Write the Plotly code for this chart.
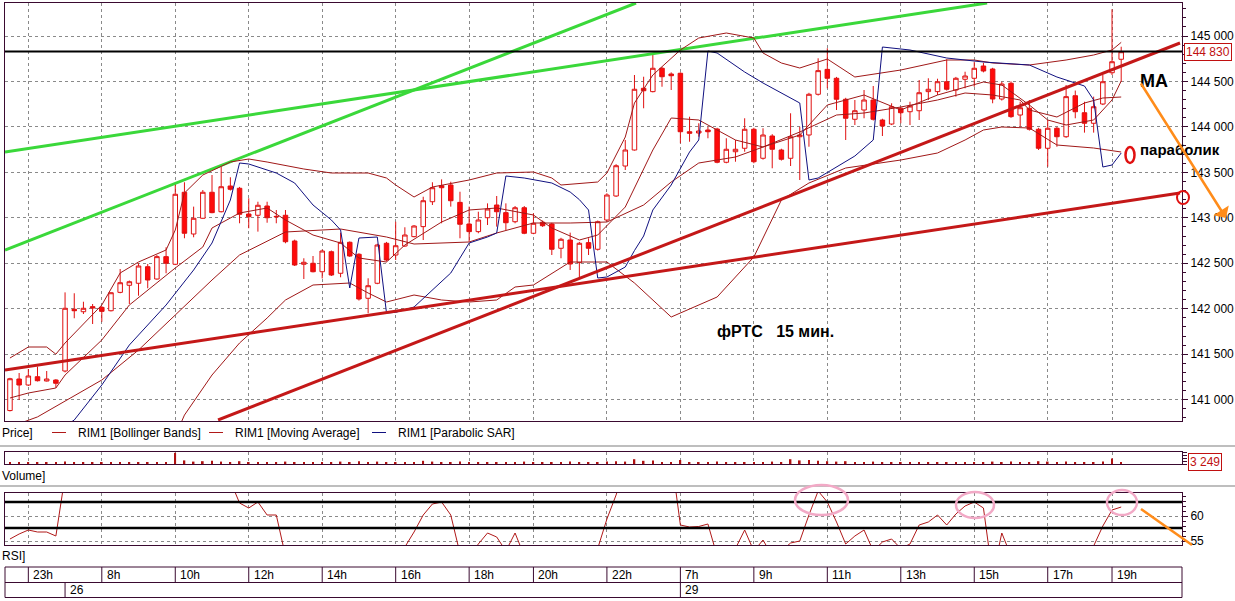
import plotly.graph_objects as go

# ---------------- data (candle index, price) ----------------
CANDLE_IDX = list(range(-2, 120))
OPEN = [140880,141227,141161,141252,141205,141216,141315,141994,141967,142023,
        142015,141978,142180,142258,142280,142462,142327,142573,142489,143281,
        142822,142995,143281,143067,143350,143325,143042,143028,143130,143010,
        143028,142745,142489,142500,142407,142627,142390,142731,142599,142115,
        142280,142720,142591,142690,142793,142903,143177,143353,143361,143170,
        142932,142848,143001,143141,143057,142957,143111,142830,142951,142932,
        142665,142756,142507,142727,142654,142976,143240,143570,143746,144425,
        144388,144645,144582,144590,143947,143933,143966,143977,143611,143727,
        143765,143974,143655,143900,143746,143655,143892,143911,144359,144633,
        144535,144304,144084,144186,144296,144076,144032,144205,144167,144178,
        144388,144388,144497,144406,144524,144535,144670,144637,144307,144480,
        144131,144205,143974,143765,143985,143892,144343,144156,144040,144252,
        144596,144744]
HIGH = [141240,141293,141337,141363,141315,141225,142180,142170,142077,142052,
        142030,142180,142437,142310,142500,142492,142590,142676,143380,143391,
        143123,143306,143471,143562,143446,143340,143215,143177,143177,143086,
        143086,142760,142555,142580,142650,142640,142837,142740,142610,142335,
        142715,142735,142957,142896,142920,143232,143391,143423,143397,143287,
        143123,143067,143159,143240,143159,143130,143130,143050,142970,142945,
        142780,142837,142735,142775,142970,143270,143590,143856,144571,144552,
        144791,144660,144600,144600,144112,144040,144002,143990,143875,143856,
        144095,143990,143985,143920,143760,144150,144002,144375,144755,144865,
        144550,144320,144296,144406,144450,144090,144260,144220,144277,144516,
        144535,144530,144744,144550,144607,144717,144706,144650,144497,144500,
        144277,144296,143990,144076,144000,144461,144400,144277,144333,144571,
        145294,144882]
LOW = [140870,140996,141150,141200,141200,141131,141300,141895,141942,141832,
       141856,141970,142170,142052,142143,142225,142320,142390,142480,142775,
       142786,142990,143050,143060,143300,142940,142885,142848,142946,142940,
       142720,142470,142327,142400,142333,142360,142346,142570,142090,141950,
       142270,142520,142536,142680,142785,142756,143141,142940,143123,142775,
       142737,142830,142921,142903,142866,142940,142820,142820,142900,142591,
       142555,142426,142333,142591,142640,142960,143230,143526,143740,144205,
       144380,144442,144406,143820,143837,143892,143875,143600,143600,143617,
       143727,143600,143640,143545,143630,143570,143416,143782,144345,144425,
       144186,143856,144021,144095,144070,143900,144020,144040,144021,144076,
       144296,144351,144400,144333,144425,144442,144600,144260,144290,144100,
       144002,143960,143746,143562,143782,143880,144095,143937,143937,144240,
       144571,144497]
CLOSE = [141230,141161,141260,141208,141227,141180,142005,141978,142005,142008,
         141971,142176,142286,142297,142470,142316,142573,142500,143259,142830,
         142995,143281,143057,143342,143314,143039,143012,143138,143001,143015,
         142737,142481,142511,142407,142635,142371,142731,142580,142107,142253,
         142701,142536,142693,142811,142910,143188,143331,143331,143188,142929,
         142848,142976,143097,143067,142946,143111,142830,142940,142913,142654,
         142764,142492,142720,142665,142957,143251,143573,143746,144414,144398,
         144645,144552,144563,143947,143930,143955,143947,143611,143754,143754,
         143974,143617,143911,143754,143644,143892,143911,144359,144619,144535,
         144304,144095,144178,144296,144084,144010,144222,144156,144230,144376,
         144414,144497,144414,144535,144560,144645,144615,144307,144472,144113,
         144211,143974,143765,143985,143892,144333,144167,144040,144222,144497,
         144717,144827]
VOLUME = [3000,5000,4000,3000,3500,3000,6000,4000,3000,3500,
          4000,3000,5000,3500,3000,4000,3000,5000,28000,9000,
          6000,7000,8000,6000,4000,7000,5000,4000,3000,5000,
          6000,5000,3000,4000,3500,4000,6000,4000,7000,5000,
          6000,4000,3000,4000,5000,8000,6000,5000,4000,6000,
          5000,4000,5000,4000,5000,3500,6000,3000,3000,5000,
          4000,6000,4000,3000,5000,6000,7000,6000,12000,8000,
          9000,5000,4000,10000,5000,3000,3000,6000,4000,3000,
          4000,5000,4000,6000,3000,12000,9000,10000,8000,7000,
          6000,7000,4000,5000,6000,4000,5000,3000,4000,5000,
          4000,3000,5000,4000,3000,4000,5000,6000,4000,6000,
          5000,4000,7000,6000,4000,6000,5000,4000,5000,6000,
          14000,3249]

# indicator lines (candle index -> value)
UB_IDX = [-2,0,2,3,4,8,10,12,15,16,17,19,22,24,26,30,33,37,39,40,42,44,48,51,55,
          57,58,62,63,65,66,68,71,73,76,79,80,82,84,87,90,95,100,103,105,109,113,116,118,119]
UB_VAL = [141458,141579,141579,141500,141623,142041,142393,142514,142646,142866,
          143273,143471,143614,143647,143614,143537,143493,143493,143438,143361,
          143229,143339,143416,143493,143504,143438,143361,143394,143493,143889,
          144263,144571,144846,144978,145033,144978,144813,144703,144648,144747,
          144549,144626,144736,144736,144703,144681,144736,144791,144846,144930]
MB_IDX = [-2,1,8,12,16,20,23,28,34,39,42,45,48,51,55,59,63,67,70,73,77,80,84,88,91,
          95,99,102,105,108,109,112,115,117,119]
MB_VAL = [140700,140810,141216,141546,141931,142316,142591,142844,142877,142789,
          142712,142723,142734,142833,142943,142943,142954,143141,143394,143603,
          143669,143779,143944,144131,144153,144219,144296,144373,144351,144296,
          144186,144109,144263,144318,144329]
LB_IDX = [16,17,20,23,26,28,31,35,37,39,42,45,48,51,53,55,59,63,66,70,75,79,82,85,89,
          95,99,102,104,106,109,112,116,119]
LB_VAL = [140600,140830,141271,141623,141898,142096,142261,142283,142173,142074,
          142151,142096,142074,142096,142239,142261,142514,142514,142283,141909,
          142129,142569,143196,143383,143548,143636,143713,143856,143966,143999,
          143988,143801,143768,143724]
MA_IDX = [-2,0,3,4,8,11,16,19,20,23,26,28,31,34,36,39,41,45,48,51,55,57,60,62,65,68,
          70,73,77,80,84,87,91,95,99,104,106,109,111,113,116,118,119]
MA_VAL = [141018,141073,141128,141271,141656,142041,142448,142679,142888,143053,
          143108,142976,142811,142723,142558,142514,142701,142954,143086,143108,
          143031,142888,142756,142811,143119,143746,144098,144076,143856,143779,
          143911,144241,144351,144186,144351,144494,144461,144241,144076,144021,
          144076,144296,144505]
SAR_IDX = [-2,5,8,11,15,18,20,21,22,23,24,27,29,31,33,34,35,36,38,39,40,42,44,46,48,50,
           51,52,54,57,59,60,61,62,63,65,66,67,68,70,72,73,74,75,78,80,84,85,86,89,90,
           92,93,96,100,104,109,112,115,116,117,118,119]
SAR_VAL = [140300,140776,141161,141601,142041,142426,142723,142954,143196,143603,143592,
           143493,143383,143141,142976,142866,142228,142778,142789,141953,141960,
           142019,142206,142393,142723,142789,142833,143460,143438,143383,143284,
           143200,143086,142338,142349,142459,142640,142800,143086,143361,143724,
           143856,144835,144813,144604,144483,144263,143416,143438,143620,143680,
           143856,144879,144846,144758,144714,144681,144549,144450,144296,143559,
           143581,143713]
RSI_IDX = [-2,-1,0,1,2,3,4,22,23,24,25,26,27,28,41,42,43,44,45,46,47,48,49,50,51,52,
           53,54,62,63,64,65,70,71,72,73,74,75,77,78,79,80,81,82,83,84,85,86,87,88,
           89,90,91,92,93,94,95,96,97,98,99,100,101,102,103,104,105,106,107,116,117,118,119]
RSI_VAL = [55.4,56.4,57.2,56.8,56.8,56.0,68,67,62.6,61.6,62.8,60.2,60.2,52,53.8,56.8,
           60.2,62.4,62.8,60.2,52.5,52.0,54.4,56.6,55.8,53.0,56.6,52,53.5,59.4,64.2,70,
           72,58.2,57.8,57.9,58.4,52,53.5,57.2,53,55.2,52,53,54.6,55.0,60.2,65.0,62.8,
           58.8,54.4,56.0,57.2,53,54.8,55.4,53.5,54.4,58.2,58.8,60.2,58.2,60.4,62.0,
           62.8,61.6,48,56.6,52,54.0,58.0,61.2,61.8]

# drawn trend lines (candle index, price) and levels
GREEN_1 = ([-2.54, 66.17], [142646, 145363])
GREEN_2 = ([-2.54, 104.4], [143724, 145363])
RED_1 = ([20.66, 125.4], [140776, 144923])
RED_2 = ([-2.54, 125.4], [141326, 143273])
LEVEL = 144830
RSI_LEVELS = [62.8, 57.6]

GRID_IDX = [0, 8, 16, 24, 32, 40, 48, 55, 63, 71, 79, 87, 95, 103, 111, 118]
HOUR_LABELS = ['23h','8h','10h','12h','14h','16h','18h','20h','22h','7h',
               '9h','11h','13h','15h','17h','19h']
DATE_IDX = [4, 71]
DATE_LABELS = ['26', '29']

# ---------------- figure ----------------
W, H = 1235, 601
ML, MR, MT, MB = 5, 53, 3, 3
def px(x):   # pixel -> paper (decorations only)
    return (x - ML) / (W - ML - MR)
def py(y):
    return (H - MB - y) / (H - MT - MB)

FRAME = '#3a0a30'
GRID = '#8a8a8a'
BAND = '#a01818'
FONT = 'Liberation Sans, Arial, sans-serif'
NARROW = 'Liberation Sans Narrow, Liberation Sans, Arial, sans-serif'
XR = [-2.54, 125.62]

fig = go.Figure()
fig.add_trace(go.Scatter(x=GREEN_1[0], y=GREEN_1[1], mode='lines',
                         line=dict(color='#3ad83a', width=3), xaxis='x', yaxis='y'))
fig.add_trace(go.Scatter(x=GREEN_2[0], y=GREEN_2[1], mode='lines',
                         line=dict(color='#3ad83a', width=3), xaxis='x', yaxis='y'))
for ix, iv in [(UB_IDX, UB_VAL), (MB_IDX, MB_VAL), (LB_IDX, LB_VAL), (MA_IDX, MA_VAL)]:
    fig.add_trace(go.Scatter(x=ix, y=iv, mode='lines', line=dict(color=BAND, width=1),
                             xaxis='x', yaxis='y'))
fig.add_trace(go.Scatter(x=SAR_IDX, y=SAR_VAL, mode='lines',
                         line=dict(color='#101080', width=1), xaxis='x', yaxis='y'))
fig.add_trace(go.Scatter(x=RED_1[0], y=RED_1[1], mode='lines',
                         line=dict(color='#c41818', width=3), xaxis='x', yaxis='y'))
fig.add_trace(go.Scatter(x=RED_2[0], y=RED_2[1], mode='lines',
                         line=dict(color='#c41818', width=3), xaxis='x', yaxis='y'))
fig.add_trace(go.Candlestick(
    x=CANDLE_IDX, open=OPEN, high=HIGH, low=LOW, close=CLOSE,
    increasing=dict(line=dict(color='#e01010', width=1), fillcolor='white'),
    decreasing=dict(line=dict(color='#e01010', width=1), fillcolor='#ff0a0a'),
    whiskerwidth=0, xaxis='x', yaxis='y'))
fig.add_trace(go.Bar(x=CANDLE_IDX, y=VOLUME, width=0.18, marker=dict(color='#b01010', line=dict(width=0)),
                     xaxis='x2', yaxis='y2'))
fig.add_trace(go.Scatter(x=RSI_IDX, y=RSI_VAL, mode='lines',
                         line=dict(color='#b01818', width=1), xaxis='x3', yaxis='y3'))

xcommon = dict(range=XR, tickvals=GRID_IDX, showticklabels=False, ticks='',
               showgrid=True, gridcolor=GRID, griddash='3px,3px', gridwidth=1,
               showline=True, mirror=True, linecolor=FRAME, linewidth=1, zeroline=False)
ycommon = dict(side='right', showline=True, mirror=True, linecolor=FRAME, linewidth=1,
               zeroline=False, ticks='outside', tickcolor=FRAME, automargin=False,
               tickfont=dict(family=FONT, size=12, color='black'))

fig.update_layout(
    width=W, height=H, margin=dict(l=ML, r=MR, t=MT, b=MB, autoexpand=False),
    paper_bgcolor='white', plot_bgcolor='white', showlegend=False,
    separators='. ',
    xaxis=dict(domain=[0, 1], anchor='y', rangeslider=dict(visible=False), **xcommon),
    xaxis2=dict(domain=[0, 1], anchor='y2', matches='x', **xcommon),
    xaxis3=dict(domain=[0, 1], anchor='y3', matches='x', **xcommon),
    yaxis=dict(domain=[py(421), 1], anchor='x', range=[140765, 145363], dtick=500, tick0=0,
               tickformat=',.0f', ticklen=5, showgrid=True, gridcolor=GRID, griddash='3px,3px',
               minor=dict(dtick=100, ticks='outside', ticklen=3, tickcolor=FRAME, showgrid=False),
               **ycommon),
    yaxis2=dict(domain=[py(464), py(452)], anchor='x2', range=[0, 30000],
                tickvals=[0, 7500, 15000, 22500, 30000], showticklabels=False, ticklen=4,
                showgrid=False, **ycommon),
    yaxis3=dict(domain=[py(545), py(493)], anchor='x3', range=[54.2, 64.6],
                tickvals=[55, 60], ticklen=5, showgrid=True, gridcolor=GRID, griddash='3px,3px',
                minor=dict(dtick=1, ticks='outside', ticklen=3, tickcolor=FRAME, showgrid=False),
                **ycommon),
)

shapes = []
shapes.append(dict(type='line', xref='paper', yref='y', x0=0, x1=1, y0=LEVEL, y1=LEVEL,
                   line=dict(color='black', width=2)))
for lv in RSI_LEVELS:
    shapes.append(dict(type='line', xref='paper', yref='y3', x0=0, x1=1, y0=lv, y1=lv,
                       line=dict(color='black', width=2.5)))
# separators between panes
for yy in (446, 486):
    shapes.append(dict(type='line', xref='paper', yref='paper', x0=px(0), x1=px(1235),
                       y0=py(yy), y1=py(yy), line=dict(color='#a8a8a8', width=1.5)))
# time axis box
shapes.append(dict(type='rect', xref='paper', yref='paper', x0=0, x1=1, y0=py(597.5), y1=py(567),
                   line=dict(color=FRAME, width=1)))
shapes.append(dict(type='line', xref='paper', yref='paper', x0=0, x1=1, y0=py(582.5), y1=py(582.5),
                   line=dict(color=FRAME, width=1)))
for gi in GRID_IDX:
    shapes.append(dict(type='line', xref='x', yref='paper', x0=gi, x1=gi, y0=py(582.5), y1=py(567),
                       line=dict(color=FRAME, width=1)))
for di in DATE_IDX:
    shapes.append(dict(type='line', xref='x', yref='paper', x0=di, x1=di, y0=py(597.5), y1=py(582.5),
                       line=dict(color=FRAME, width=1)))
# legend swatches
for x0, col in [(52, '#b01818'), (209, '#b01818'), (372, '#101080')]:
    shapes.append(dict(type='line', xref='paper', yref='paper', x0=px(x0), x1=px(x0 + 14),
                       y0=py(432.5), y1=py(432.5), line=dict(color=col, width=1)))
# hand drawn marks
shapes.append(dict(type='circle', xref='paper', yref='paper', x0=px(1177), x1=px(1189),
                   y0=py(204), y1=py(191), line=dict(color='#e01010', width=2)))
shapes.append(dict(type='circle', xref='paper', yref='paper', x0=px(1125.5), x1=px(1134.5),
                   y0=py(163), y1=py(147), line=dict(color='#e01010', width=2.5)))
for (a, b, c, d) in [(795, 848, 485, 515), (956, 994, 492, 518), (1107, 1137, 490, 515)]:
    shapes.append(dict(type='circle', xref='paper', yref='paper', x0=px(a), x1=px(b),
                       y0=py(d), y1=py(c), line=dict(color='#f2a9c6', width=2.5)))
shapes.append(dict(type='line', xref='paper', yref='paper', x0=px(1141), x1=px(1192),
                   y0=py(509), y1=py(545), line=dict(color='#ff8c1a', width=2.5)))
fig.update_layout(shapes=shapes)

ann = []
def text(x, y, s, size=12, color='black', bold=False, family=NARROW, anchor='left', **kw):
    if bold:
        s = '<b>' + s + '</b>'
    ann.append(dict(xref='paper', yref='paper', x=px(x), y=py(y), text=s, showarrow=False,
                    xanchor=anchor, yanchor='middle',
                    font=dict(family=family, size=size, color=color), **kw))

text(0, 433, 'Price]')
text(76, 433, 'RIM1 [Bollinger Bands]')
text(233, 433, 'RIM1 [Moving Average]')
text(396, 433, 'RIM1 [Parabolic SAR]')
text(0, 476, 'Volume]')
text(0, 556, 'RSI]')
text(1138, 81, 'MA', size=18, bold=True, family=FONT)
text(1138, 149, 'параболик', size=15, bold=True, family=FONT)
text(715, 331, 'фРТС\u00a0\u00a0\u00a015 мин.', size=16, bold=True, family=FONT)
text(1184, 51.5, '144\u00a0830', size=12, color='#c01010', family=FONT,
     bordercolor='#c01010', borderwidth=1, borderpad=1, bgcolor='white')
text(1188, 462, '3\u00a0249', size=12, color='#c01010', family=FONT,
     bordercolor='#c01010', borderwidth=1, borderpad=1, bgcolor='white')
for gi, lab in zip(GRID_IDX, HOUR_LABELS):
    ann.append(dict(xref='x', yref='paper', x=gi, y=py(575), text=lab, showarrow=False,
                    xanchor='left', yanchor='middle', xshift=3,
                    font=dict(family=NARROW, size=12, color='black')))
for di, lab in zip(DATE_IDX, DATE_LABELS):
    ann.append(dict(xref='x', yref='paper', x=di, y=py(590), text=lab, showarrow=False,
                    xanchor='left', yanchor='middle', xshift=3,
                    font=dict(family=NARROW, size=12, color='black')))
# orange arrow
ann.append(dict(xref='paper', yref='paper', x=px(1226), y=py(218), ax=1140 - 1226, ay=82 - 218,
                axref='pixel', ayref='pixel', showarrow=True, arrowhead=1, arrowsize=1.2,
                arrowwidth=2.5, arrowcolor='#ff8c1a', text=''))
fig.update_layout(annotations=ann)

fig.write_html('out.html', config={'displayModeBar': False},
               post_script="document.body.style.margin='0';document.body.style.padding='0';")
